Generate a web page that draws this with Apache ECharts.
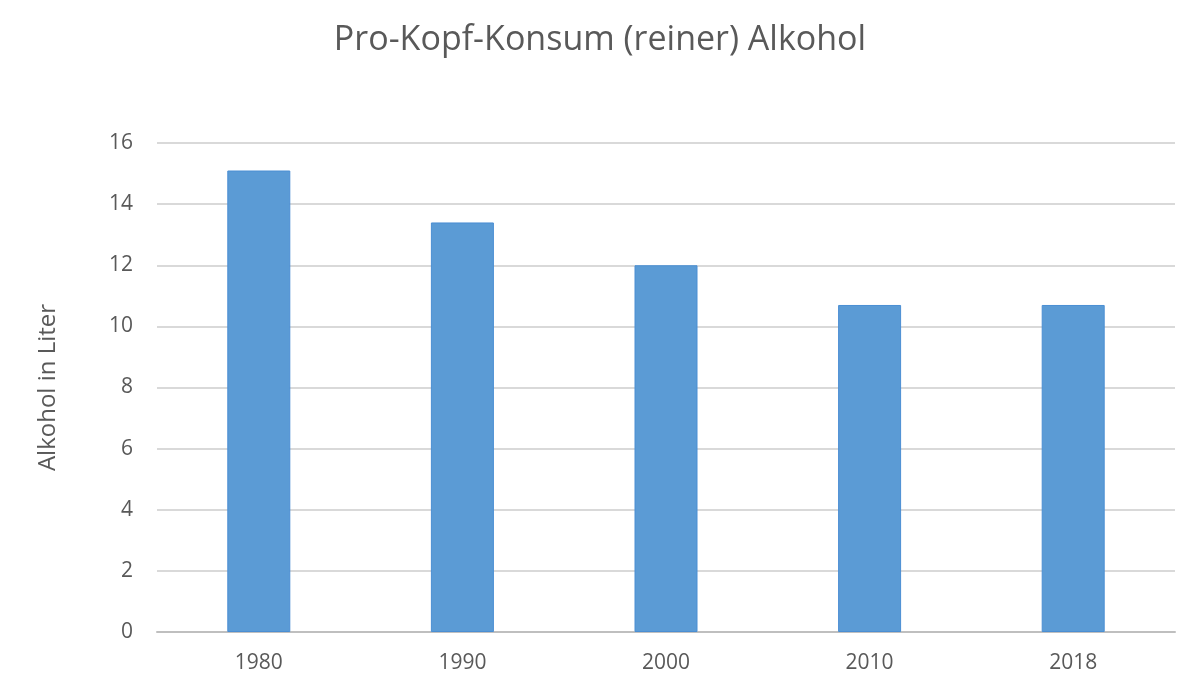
<!DOCTYPE html>
<html><head><meta charset="utf-8">
<script src="https://cdn.jsdelivr.net/npm/echarts@6/dist/echarts.min.js"></script>
<style>html,body{margin:0;padding:0;background:#fff}#c{width:1200px;height:690px}</style>
</head><body><div id="c"></div>
<script>
const titleText = 'Pro-Kopf-Konsum (reiner) Alkohol';
const yAxisName = 'Alkohol in Liter';
const categories = ['1980', '1990', '2000', '2010', '2018'];
const values = [15.1, 13.4, 12.0, 10.7, 10.7];
const font = '"Open Sans", "Noto Sans", sans-serif';
const chart = echarts.init(document.getElementById('c'));
chart.setOption({
  animation: false,
  backgroundColor: '#ffffff',
  title: {
    text: titleText, left: 'center', top: 18,
    textStyle: { fontFamily: font, fontSize: 34, fontWeight: 'normal', color: '#595959' }
  },
  grid: { left: 157, right: 25, top: 143, bottom: 58, containLabel: false },
  xAxis: {
    type: 'category', data: categories,
    axisLine: { lineStyle: { color: '#bfbfbf', width: 2 } },
    axisTick: { show: false },
    axisLabel: { fontFamily: font, fontSize: 21, color: '#595959', margin: 21 }
  },
  yAxis: {
    type: 'value', min: 0, max: 16, interval: 2,
    name: yAxisName, nameLocation: 'middle', nameGap: 97, nameRotate: 90,
    nameTextStyle: { fontFamily: font, fontSize: 24, color: '#595959' },
    axisLine: { show: false }, axisTick: { show: false },
    axisLabel: { fontFamily: font, fontSize: 21, color: '#595959', margin: 24 },
    splitLine: { lineStyle: { color: '#d9d9d9', width: 2 } }
  },
  series: [{
    type: 'bar', data: values, barWidth: 63,
    itemStyle: { color: '#5b9bd5', borderColor: '#4a8ed3', borderWidth: 1 }
  }]
});
</script></body></html>
